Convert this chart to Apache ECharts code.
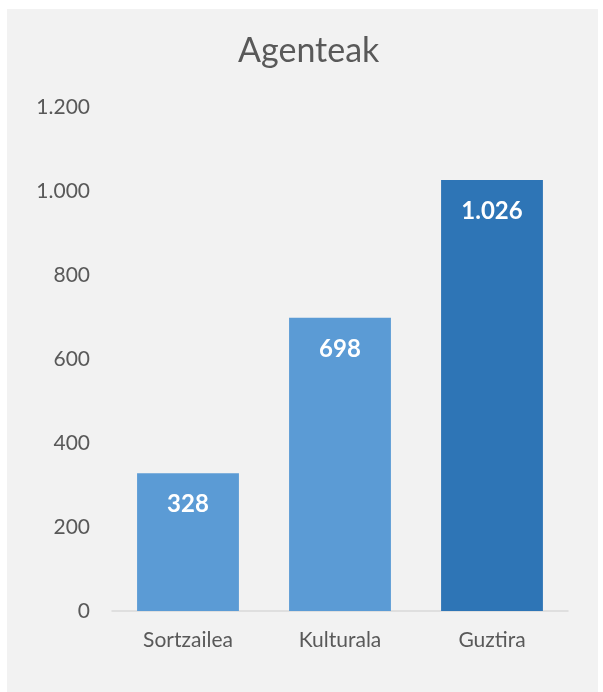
<!DOCTYPE html>
<html><head><meta charset="utf-8">
<script src="https://cdn.jsdelivr.net/npm/echarts@6/dist/echarts.min.js"></script>
<style>html,body{margin:0;padding:0;background:#fff;}#c{width:603px;height:692px;}</style>
</head><body><div id="c"></div>
<script>
const chartTitle = 'Agenteak';
const categories = ['Sortzailea', 'Kulturala', 'Guztira'];
const values = [328, 698, 1026];
const barColors = ['#5b9bd5', '#5b9bd5', '#2e75b6'];
const yTicks = { min: 0, max: 1200, interval: 200 };

const fmt = v => String(v).replace(/\B(?=(\d{3})+(?!\d))/g, '.');
const font = 'Lato, "Open Sans", sans-serif';
const chart = echarts.init(document.getElementById('c'));
chart.setOption({
  backgroundColor: '#ffffff',
  animation: false,
  graphic: [{ type: 'rect', z: -10, shape: { x: 7, y: 9, width: 591, height: 683 }, style: { fill: '#f2f2f2' } }],
  title: { text: chartTitle, left: 233, top: 29, textStyle: { fontFamily: font, fontSize: 34, fontWeight: 'normal', color: '#595959' } },
  grid: { left: 112, right: 35, top: 107, bottom: 81, containLabel: false },
  xAxis: {
    type: 'category', data: categories,
    axisLine: { lineStyle: { color: '#d9d9d9', width: 1.5 } },
    axisTick: { show: false },
    axisLabel: { fontFamily: font, fontSize: 21, color: '#595959', margin: 19 }
  },
  yAxis: {
    type: 'value', min: yTicks.min, max: yTicks.max, interval: yTicks.interval,
    splitLine: { show: false },
    axisLine: { show: false }, axisTick: { show: false },
    axisLabel: { fontFamily: font, fontSize: 21, color: '#595959', margin: 22, formatter: fmt }
  },
  series: [{
    type: 'bar', barCategoryGap: '33%',
    data: values.map((v, i) => ({ value: v, itemStyle: { color: barColors[i] } })),
    label: { show: true, position: 'insideTop', distance: 19, formatter: p => fmt(p.value), fontFamily: font, fontSize: 24, fontWeight: 'bold', color: '#ffffff' }
  }]
});
</script></body></html>
